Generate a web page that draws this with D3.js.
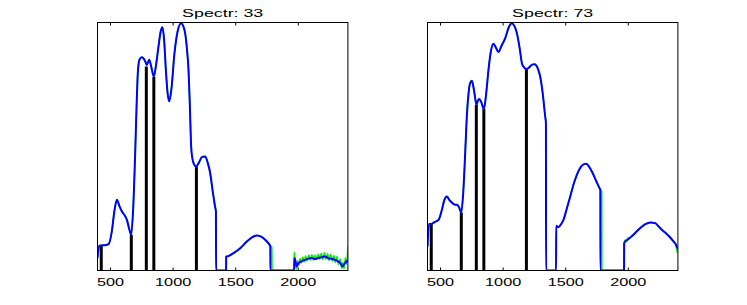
<!DOCTYPE html>
<html>
<head>
<meta charset="utf-8">
<script src="https://cdn.jsdelivr.net/npm/d3@7"></script>
<style>
  body { margin: 0; background: #fff; }
  text { font-family: "Liberation Sans", Arial, sans-serif; }
</style>
</head>
<body>
<div class="canvas"></div>
<script>
// ---- DATA --- //
const ticks = [500, 1000, 1500, 2000];
const bandWl = [430, 670, 790, 850, 1190];

// spectrum 33 (smoothed, blue)
const wl33 = [400, 414, 430, 460, 488, 515, 535, 555, 575, 595, 615, 635, 652, 669, 685, 701, 712, 722, 735, 754,
  770, 781, 794, 813, 830, 850, 868, 887, 905, 919, 932, 946, 960, 973, 990, 1015, 1040, 1068, 1085, 1100,
  1115, 1127, 1138, 1148, 1157, 1167, 1188, 1210, 1235, 1260, 1280, 1300, 1320, 1340, 1346, 1347, 1427, 1428,
  1446, 1486, 1540, 1593, 1646, 1673, 1713, 1753, 1780, 1781, 1970, 1973, 1985, 1993, 2005, 2019, 2035, 2059,
  2085, 2112, 2140, 2165, 2190, 2219, 2245, 2272, 2300, 2325, 2340, 2357, 2370, 2392, 2400];
const s33 = [5.0, 10.0, 10.1, 10.2, 10.6, 16, 24, 28.5, 26.0, 23.8, 22.4, 20.4, 17, 14.4, 25, 47.3, 66, 79.6, 85.0, 86.0,
  85.4, 84.3, 82.9, 85.0, 82.0, 78.2, 83, 90.3, 96.5, 98.1, 93, 80.9, 71.5, 68.2, 73, 87.7, 96.5, 99.7, 98.5, 95.7,
  89, 80.9, 66, 50.0, 45.5, 43.3, 41.9, 43.5, 45.8, 46.0, 43.5, 39.3, 32, 25.5, 23.8, 0, 0, 5.6,
  5.8, 7.0, 9.0, 11.7, 13.7, 14.1, 13.5, 11.7, 9.8, 0, 0, 5.0, 3.0, 1.6, 3.0, 3.4, 3.9, 4.3,
  4.8, 5.0, 4.6, 5.1, 5.3, 5.6, 4.9, 4.7, 4.2, 3.6, 3.0, 1.6, 2.6, 3.8, 4.2];
// spectrum 33 raw tail (green)
const gWl33 = [1780, 1793, 1794, 1970, 1971, 1980, 1990, 1998, 2008, 2018, 2028, 2040, 2050, 2062, 2075, 2088, 2100,
  2112, 2125, 2138, 2150, 2162, 2175, 2188, 2200, 2212, 2225, 2238, 2250, 2262, 2275, 2288, 2300, 2312, 2325,
  2338, 2350, 2360, 2370, 2380, 2390, 2400];
const g33 = [9.8, 9.4, 0, 0, 7.4, 2.6, 0.6, 4.0, 2.2, 4.8, 3.0, 5.4, 3.4, 5.8, 3.9, 6.2, 4.1,
  6.4, 4.2, 6.1, 4.4, 6.6, 4.5, 7.0, 4.4, 7.2, 4.4, 6.8, 4.0, 6.6, 3.8, 6.0, 3.2, 5.6, 2.4,
  4.6, 0.8, 3.2, 0.8, 5.0, 2.6, 10.0];
const bars33 = [10.0, 14.4, 82.3, 78.0, 41.9];

// spectrum 73 (smoothed, blue)
const wl73 = [400, 412, 430, 460, 488, 515, 535, 555, 575, 595, 615, 635, 652, 669, 685, 701, 715, 728, 740, 754,
  765, 775, 791, 803, 813, 830, 850, 868, 887, 905, 927, 945, 967, 990, 1021, 1050, 1074, 1095, 1114, 1135,
  1154, 1170, 1188, 1210, 1235, 1255, 1280, 1300, 1320, 1340, 1346, 1347, 1427, 1428, 1446, 1466, 1486, 1510,
  1540, 1565, 1593, 1625, 1650, 1668, 1690, 1713, 1745, 1774, 1780, 1781, 1970, 1971, 1985, 1998, 2020, 2045,
  2070, 2099, 2140, 2179, 2219, 2245, 2272, 2300, 2325, 2345, 2365, 2380, 2392, 2400];
const s73 = [9.7, 18.8, 18.8, 19.6, 20.4, 24.5, 28.5, 29.8, 28.4, 27.4, 26.6, 26.5, 25.5, 23.4, 31, 47.3, 63, 71.5, 75.5, 76.5,
  74.5, 71.5, 66.8, 68.6, 69.2, 67.8, 65.1, 71, 80.9, 88, 91.4, 90, 88.1, 90.5, 93.7, 98.2, 99.7, 98.5, 95.7, 90,
  83.6, 82, 81.2, 81.8, 83, 83.2, 81.6, 78.2, 71.5, 62.1, 59.5, 0, 0, 18.0, 17.5, 18.6, 20.4, 24.5,
  29.8, 34.5, 38.6, 41.8, 42.9, 43.0, 41.9, 39.9, 36.4, 33.2, 32.6, 0, 0, 11.0, 12.0, 12.4, 13.3, 14.4,
  15.7, 17.1, 18.7, 19.4, 19.1, 17.8, 16.4, 15.2, 14.0, 12.9, 11.7, 10.8, 9.4, 8.6];
// spectrum 73 raw tail (green)
const gWl73 = [1780, 1792, 1793, 1968, 1969, 1980, 1990, 2000, 2012, 2025, 2045, 2070, 2099, 2140, 2179, 2219, 2245,
  2272, 2300, 2325, 2340, 2355, 2370, 2380, 2388, 2395, 2400];
const g73 = [32.6, 31.8, 0, 0, 10.5, 12.3, 11.6, 13.2, 12.9, 13.7, 14.4, 15.7, 17.1, 18.7, 19.4, 19.1, 17.8,
  16.4, 15.2, 14.0, 13.4, 12.2, 11.6, 11.0, 9.8, 7.2, 8.0];
const bars73 = [18.8, 23.4, 66.8, 65.1, 81.2];


// ---- GRAPH CONTAINER SETUP --- //
const graphWidth = 250.4;
const graphHeight = 248;
const textStretch = 1.55;

const svg = d3.select('.canvas')
    .append('svg')
    .attr('width', 747)
    .attr('height', 305);

const x = d3.scaleLinear().domain([400, 2400]).range([0, graphWidth]);
const y = d3.scaleLinear().domain([0, 100]).range([graphHeight, 0]);

svg.append('clipPath')
    .attr('id', 'plot-clip')
    .append('rect')
    .attr('width', graphWidth)
    .attr('height', graphHeight);

const line = d3.line()
    .x(d => x(d[0]))
    .y(d => y(d[1]))
    .curve(d3.curveMonotoneX);


// ---- DRAW ONE PANEL --- //
const drawPanel = (left, title, wl, vals, gWl, gVals, bars) => {
    const graph = svg.append('g')
        .attr('transform', `translate(${left},22.5)`);

    // bottom + top ticks (inside)
    const bottomAxis = d3.axisBottom(x)
        .tickValues(ticks)
        .tickSizeInner(-3)
        .tickSizeOuter(0)
        .tickPadding(7.6)
        .tickFormat(d3.format('d'));
    const topAxis = d3.axisTop(x)
        .tickValues(ticks)
        .tickSizeInner(-3)
        .tickSizeOuter(0)
        .tickFormat('');

    const bAxisGroup = graph.append('g')
        .attr('transform', `translate(0, ${graphHeight})`)
        .call(bottomAxis);
    bAxisGroup.select('.domain').remove();
    bAxisGroup.selectAll('text')
        .attr('font-size', 10.5)
        .attr('font-family', '"Liberation Sans", Arial, sans-serif')
        .attr('fill', '#000')
        .attr('transform', `scale(${textStretch},1)`);

    const tAxisGroup = graph.append('g').call(topAxis);
    tAxisGroup.select('.domain').remove();

    const plot = graph.append('g').attr('clip-path', 'url(#plot-clip)');

    // band stems
    plot.selectAll('.stem')
        .data(bandWl.map((w, i) => [w, bars[i]]))
        .enter().append('line')
        .attr('x1', d => x(d[0]))
        .attr('x2', d => x(d[0]))
        .attr('y1', y(0))
        .attr('y2', d => y(d[1]))
        .attr('stroke', '#000')
        .attr('stroke-width', 3);

    const blue = wl.map((w, i) => [w, vals[i]]);
    const green = blue.filter(d => d[0] < gWl[0]).concat(gWl.map((w, i) => [w, gVals[i]]));

    plot.append('path')
        .datum(green)
        .attr('d', line)
        .attr('fill', 'none')
        .attr('stroke', '#00ee00')
        .attr('stroke-width', 1.5);

    plot.append('path')
        .datum(blue)
        .attr('d', line)
        .attr('fill', 'none')
        .attr('stroke', '#0000ff')
        .attr('stroke-width', 2);

    graph.append('rect')
        .attr('width', graphWidth)
        .attr('height', graphHeight)
        .attr('fill', 'none')
        .attr('stroke', '#000')
        .attr('stroke-width', 1);

    graph.append('g')
        .attr('transform', `translate(${graphWidth / 2}, -5.8) scale(${textStretch},1)`)
        .append('text')
        .attr('text-anchor', 'middle')
        .attr('font-size', 11.5)
        .text(title);
};

drawPanel(97.5, 'Spectr: 33', wl33, s33, gWl33, g33, bars33);
drawPanel(427.5, 'Spectr: 73', wl73, s73, gWl73, g73, bars73);
</script>
</body>
</html>
